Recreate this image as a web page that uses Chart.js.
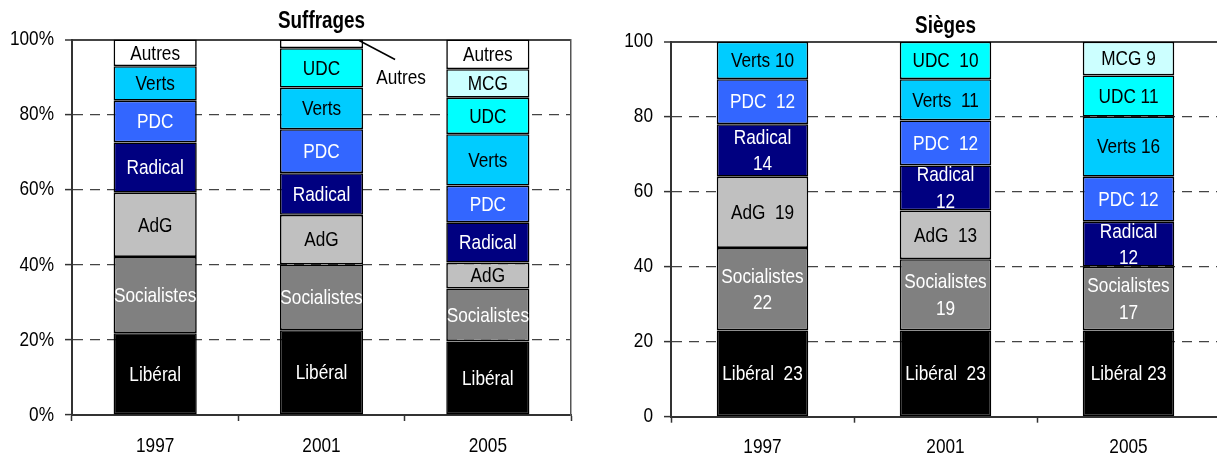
<!DOCTYPE html>
<html><head><meta charset="utf-8">
<script src="https://cdn.jsdelivr.net/npm/chart.js@4"></script>
<style>
html,body{margin:0;padding:0;background:#fff;overflow:hidden;width:1217px;height:456px;position:relative;}
#c1{position:absolute;left:0;top:0;width:600px;height:456px;}
#c2{position:absolute;left:590px;top:0;width:640px;height:456px;}
</style></head><body>
<canvas id="c1" width="600" height="456"></canvas>
<canvas id="c2" width="640" height="456"></canvas>
<script>
// ---------- DATA ----------
const years = ['1997', '2001', '2005'];

// Suffrages (% of votes)
const suffLiberal     = [21.8, 22.6, 19.6];
const suffSocialistes = [20.3, 17.5, 14.1];
const suffAdG         = [17.1, 13.2, 6.9];
const suffRadical     = [13.4, 11.1, 10.7];
const suffPDC         = [11.1, 11.7, 9.8];
const suffVerts       = [9.2, 11.1, 13.7];
const suffUDC         = [null, 10.5, 9.7];
const suffMCG         = [null, null, 7.6];
const suffAutres      = [7.1, 2.3, 7.9];
const suffTicks = [0, 20, 40, 60, 80, 100];

// Sièges (seats)
const siegLiberal     = [23, 23, 23];
const siegSocialistes = [22, 19, 17];
const siegAdG         = [19, 13, null];
const siegRadical     = [14, 12, 12];
const siegPDC         = [12, 12, 12];
const siegVerts       = [10, 11, 16];
const siegUDC         = [null, 10, 11];
const siegMCG         = [null, null, 9];
const siegTicks = [0, 20, 40, 60, 80, 100];

// Seat label texts
const siegTxtLiberal     = ['Libéral  23', 'Libéral  23', 'Libéral 23'];
const siegTxtSocialistes = ['Socialistes\n22', 'Socialistes\n19', 'Socialistes\n17'];
const siegTxtAdG         = ['AdG  19', 'AdG  13', ''];
const siegTxtRadical     = ['Radical\n14', 'Radical\n12', 'Radical\n12'];
const siegTxtPDC         = ['PDC  12', 'PDC  12', 'PDC 12'];
const siegTxtVerts       = ['Verts 10', 'Verts  11', 'Verts 16'];
const siegTxtUDC         = ['', 'UDC  10', 'UDC 11'];
const siegTxtMCG         = ['', '', 'MCG 9'];

// ---------- NARROW TEXT (Arial Narrow look from Liberation Sans) ----------
(function () {
  const SX = 0.82;
  const P = CanvasRenderingContext2D.prototype;
  const f = P.fillText, m = P.measureText;
  P.fillText = function (t, x, y, w) {
    this.save();
    this.translate(x, y);
    this.scale(SX, 1);
    if (w !== undefined && w !== null) f.call(this, t, 0, 0, w / SX); else f.call(this, t, 0, 0);
    this.restore();
  };
  P.measureText = function (t) {
    const r = m.call(this, t);
    return {
      width: r.width * SX,
      actualBoundingBoxAscent: r.actualBoundingBoxAscent,
      actualBoundingBoxDescent: r.actualBoundingBoxDescent,
      actualBoundingBoxLeft: r.actualBoundingBoxLeft * SX,
      actualBoundingBoxRight: r.actualBoundingBoxRight * SX,
      fontBoundingBoxAscent: r.fontBoundingBoxAscent,
      fontBoundingBoxDescent: r.fontBoundingBoxDescent
    };
  };
})();

// ---------- STYLE ----------
const FF = "'Liberation Sans', Arial, sans-serif";
Chart.defaults.font.family = FF;
Chart.defaults.color = '#000';
const FS = 21;
const LINE_H = 26.5;
const C = {
  Liberal: '#000000', Socialistes: '#808080', AdG: '#C0C0C0', Radical: '#000080',
  PDC: '#3366FF', Verts: '#00CCFF', UDC: '#00FFFF', MCG: '#CCFFFF', Autres: '#FFFFFF'
};
const WHITE_TXT = '#FFFFFF', BLACK_TXT = '#000000';

function mkDs(label, data, color, textColor, text) {
  return {
    label, data, backgroundColor: color, borderColor: '#000', borderWidth: 1.6,
    borderSkipped: false, textColor, segText: text,
    barPercentage: 0.5, categoryPercentage: 1
  };
}
const rep = n => years.map(() => n);

const segLabelPlugin = {
  id: 'segLabels',
  afterDatasetsDraw(chart) {
    const ctx = chart.ctx;
    ctx.save();
    ctx.font = FS + 'px ' + FF;
    ctx.textAlign = 'center';
    ctx.textBaseline = 'middle';
    chart.data.datasets.forEach((ds, di) => {
      const meta = chart.getDatasetMeta(di);
      meta.data.forEach((bar, i) => {
        const text = ds.segText && ds.segText[i];
        if (!text || ds.data[i] == null) return;
        const p = bar.getProps(['x', 'y', 'base', 'width'], true);
        const top = Math.min(p.y, p.base), bot = Math.max(p.y, p.base);
        const h = bot - top;
        const lines = text.split('\n');
        if (h < 14) {
          const rx = p.x + p.width / 2;
          ctx.strokeStyle = '#000';
          ctx.lineWidth = 1.5;
          ctx.beginPath();
          ctx.moveTo(rx - 4, top + 1);
          ctx.lineTo(rx + 32, top + 20);
          ctx.stroke();
          ctx.fillStyle = BLACK_TXT;
          ctx.fillText(lines[0], rx + 38, top + 39);
        } else {
          ctx.fillStyle = ds.textColor;
          const cy = (top + bot) / 2 + 1;
          lines.forEach((ln, k) => ctx.fillText(ln, p.x, cy + (k - (lines.length - 1) / 2) * LINE_H));
        }
      });
    });
    ctx.restore();
  }
};

function scalesFor(yWidth, xHeight, tickFmt, ticksArr, withRight, xPad) {
  const s = {
    x: {
      stacked: true, offset: true,
      grid: { display: true, drawOnChartArea: false, drawTicks: true, tickLength: 6, offset: true, color: '#333', tickColor: '#333', tickWidth: 1.5 },
      border: { display: true, color: '#333', width: 2 },
      ticks: { color: '#000', font: { size: FS }, padding: xPad },
      afterFit(sc) { sc.height = xHeight; }
    },
    y: {
      stacked: true, min: 0, max: 100,
      afterBuildTicks(sc) { sc.ticks = ticksArr.map(v => ({ value: v })); },
      ticks: { color: '#000', font: { size: FS }, padding: 11, callback: tickFmt },
      grid: {
        color: '#444', tickLength: 7, tickColor: '#333', tickWidth: 1.5,
        lineWidth: c => (c.tick && c.tick.value === 100) ? 2 : 1.2
      },
      border: {
        display: true, color: '#333', width: 2,
        dash: c => (c.tick && (c.tick.value === 0 || c.tick.value === 100)) ? [] : [10, 7]
      },
      afterFit(sc) { sc.width = yWidth; }
    }
  };
  if (withRight) {
    s.yR = {
      position: 'right', min: 0, max: 100,
      ticks: { display: false }, grid: { display: false },
      border: { display: true, color: '#555', width: 1.5 },
      afterFit(sc) { sc.width = 1; }
    };
  }
  return s;
}

// ---------- LEFT: Suffrages ----------
new Chart(document.getElementById('c1'), {
  type: 'bar',
  data: {
    labels: years,
    datasets: [
      mkDs('Libéral', suffLiberal, C.Liberal, WHITE_TXT, rep('Libéral')),
      mkDs('Socialistes', suffSocialistes, C.Socialistes, WHITE_TXT, rep('Socialistes')),
      mkDs('AdG', suffAdG, C.AdG, BLACK_TXT, rep('AdG')),
      mkDs('Radical', suffRadical, C.Radical, WHITE_TXT, rep('Radical')),
      mkDs('PDC', suffPDC, C.PDC, WHITE_TXT, rep('PDC')),
      mkDs('Verts', suffVerts, C.Verts, BLACK_TXT, rep('Verts')),
      mkDs('UDC', suffUDC, C.UDC, BLACK_TXT, rep('UDC')),
      mkDs('MCG', suffMCG, C.MCG, BLACK_TXT, rep('MCG')),
      mkDs('Autres', suffAutres, C.Autres, BLACK_TXT, rep('Autres'))
    ]
  },
  options: {
    responsive: false, animation: false,
    layout: { padding: { left: 0, right: 28, top: 0, bottom: 0 } },
    plugins: {
      legend: { display: false }, tooltip: { enabled: false },
      title: { display: true, text: 'Suffrages', fullSize: false, color: '#000',
        font: { size: 23, weight: 'bold', family: FF }, padding: { top: 7.5, bottom: 4.4 } }
    },
    scales: scalesFor(72, 41, v => v + '%', suffTicks, true, 13)
  },
  plugins: [segLabelPlugin]
});

// ---------- RIGHT: Sièges ----------
new Chart(document.getElementById('c2'), {
  type: 'bar',
  data: {
    labels: years,
    datasets: [
      mkDs('Libéral', siegLiberal, C.Liberal, WHITE_TXT, siegTxtLiberal),
      mkDs('Socialistes', siegSocialistes, C.Socialistes, WHITE_TXT, siegTxtSocialistes),
      mkDs('AdG', siegAdG, C.AdG, BLACK_TXT, siegTxtAdG),
      mkDs('Radical', siegRadical, C.Radical, WHITE_TXT, siegTxtRadical),
      mkDs('PDC', siegPDC, C.PDC, WHITE_TXT, siegTxtPDC),
      mkDs('Verts', siegVerts, C.Verts, BLACK_TXT, siegTxtVerts),
      mkDs('UDC', siegUDC, C.UDC, BLACK_TXT, siegTxtUDC),
      mkDs('MCG', siegMCG, C.MCG, BLACK_TXT, siegTxtMCG)
    ]
  },
  options: {
    responsive: false, animation: false,
    layout: { padding: { left: 0, right: 10, top: 0, bottom: 0 } },
    plugins: {
      legend: { display: false }, tooltip: { enabled: false },
      title: { display: true, text: 'Sièges', fullSize: false, color: '#000',
        font: { size: 23, weight: 'bold', family: FF }, padding: { top: 13.2, bottom: 0.9 } }
    },
    scales: scalesFor(81, 39.3, v => String(v), siegTicks, false, 12.3)
  },
  plugins: [segLabelPlugin]
});
</script></body></html>
